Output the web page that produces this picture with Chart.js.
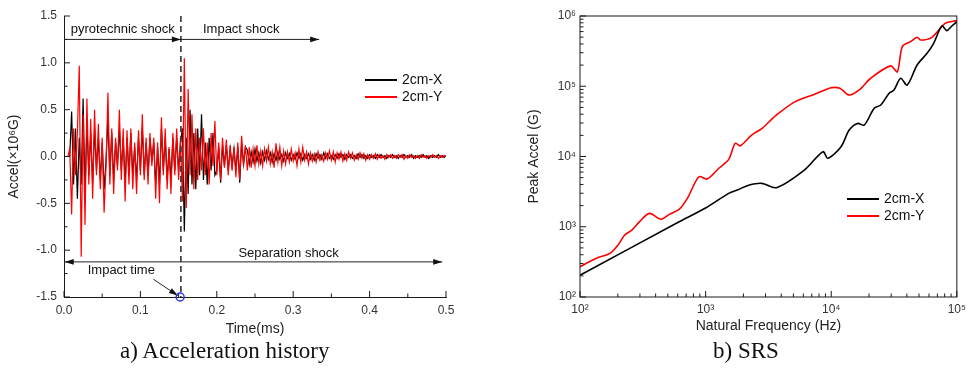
<!DOCTYPE html>
<html>
<head>
<meta charset="utf-8">
<script src="https://cdn.jsdelivr.net/npm/chart.js@4"></script>
<style>
	body { margin: 0; background: #fff; width: 971px; height: 369px; position: relative; overflow: hidden; }
	canvas { position: absolute; top: 0; }
	#histChart { left: 0; }
	#srsChart { left: 490px; }
	.caption { position: absolute; top: 339px; font-family: 'Liberation Serif', 'Times New Roman', serif; font-size: 23px; line-height: 23px; color: #111; white-space: nowrap; }
</style>
</head>
<body>
<canvas id="histChart" width="490" height="369"></canvas>
<canvas id="srsChart" width="481" height="369"></canvas>
<div class="caption" style="left:120px">a) Acceleration history</div>
<div class="caption" style="left:713px">b) SRS</div>
<script>
// time history, ms
const timeMs = [
	0, 0.0025, 0.005, 0.0075, 0.01, 0.0125, 0.015, 0.0175,
	0.02, 0.0225, 0.025, 0.0275, 0.03, 0.0325, 0.035, 0.0375,
	0.04, 0.0425, 0.045, 0.0475, 0.05, 0.0525, 0.055, 0.0575,
	0.06, 0.0625, 0.065, 0.0675, 0.07, 0.0725, 0.075, 0.0775,
	0.08, 0.0825, 0.085, 0.0875, 0.09, 0.0925, 0.095, 0.0975,
	0.1, 0.1025, 0.105, 0.1075, 0.11, 0.1125, 0.115, 0.1175,
	0.12, 0.1225, 0.125, 0.1275, 0.13, 0.1325, 0.135, 0.1375,
	0.14, 0.1425, 0.145, 0.1475, 0.15, 0.1525, 0.155, 0.1575,
	0.16, 0.1625, 0.165, 0.1675, 0.17, 0.1725, 0.175, 0.1775,
	0.18, 0.1825, 0.185, 0.1875, 0.19, 0.1925, 0.195, 0.1975,
	0.2, 0.2025, 0.205, 0.2075, 0.21, 0.2125, 0.215, 0.2175,
	0.22, 0.2225, 0.225, 0.2275, 0.23, 0.2325, 0.235, 0.2375,
	0.24, 0.2425, 0.245, 0.2475, 0.25, 0.2525, 0.255, 0.2575,
	0.26, 0.2625, 0.265, 0.2675, 0.27, 0.2725, 0.275, 0.2775,
	0.28, 0.2825, 0.285, 0.2875, 0.29, 0.2925, 0.295, 0.2975,
	0.3, 0.3025, 0.305, 0.3075, 0.31, 0.3125, 0.315, 0.3175,
	0.32, 0.3225, 0.325, 0.3275, 0.33, 0.3325, 0.335, 0.3375,
	0.34, 0.3425, 0.345, 0.3475, 0.35, 0.3525, 0.355, 0.3575,
	0.36, 0.3625, 0.365, 0.3675, 0.37, 0.3725, 0.375, 0.3775,
	0.38, 0.3825, 0.385, 0.3875, 0.39, 0.3925, 0.395, 0.3975,
	0.4, 0.4025, 0.405, 0.4075, 0.41, 0.4125, 0.415, 0.4175,
	0.42, 0.4225, 0.425, 0.4275, 0.43, 0.4325, 0.435, 0.4375,
	0.44, 0.4425, 0.445, 0.4475, 0.45, 0.4525, 0.455, 0.4575,
	0.46, 0.4625, 0.465, 0.4675, 0.47, 0.4725, 0.475, 0.4775,
	0.48, 0.4825, 0.485, 0.4875, 0.49, 0.4925, 0.495, 0.4975,
	0.5
];

// 2cm-X, x10^6 G
const accelX = [
	0, 0, 0, 0, 0.48, -0.3, 0.3, -0.45,
	0.2, -0.3, 0.62, -0.4, 0.35, -0.2, 0.25, -0.3,
	0.3, -0.15, 0.2, -0.25, 0.15, -0.35, -0.05, 0.4,
	-0.2, 0.25, -0.25, 0.15, -0.1, 0.3, -0.15, 0.2,
	-0.3, 0.2, -0.2, 0.25, -0.2, 0.1, -0.25, 0.2,
	-0.15, 0.3, -0.2, 0.15, -0.2, 0.2, -0.05, 0.15,
	-0.3, 0.1, -0.3, 0.3, -0.15, 0.2, -0.25, 0.08,
	-0.25, 0.2, -0.15, 0.2, -0.15, 0.15, 0.3, -0.8,
	0.2, -0.4, 0.5, -0.3, 0.25, -0.35, 0.3, -0.2,
	0.45, -0.25, 0.15, -0.3, 0.2, -0.15, 0.25, -0.2,
	-0.15, 0.1, -0.28, 0.12, -0.1, 0.12, -0.15, 0.08,
	-0.1, 0.08, -0.15, 0.1, -0.28, 0.15, -0.08, 0.1,
	0.07, -0.08, 0.05, -0.06, 0.08, -0.05, 0.04, -0.07,
	0.05, -0.04, 0.06, -0.03, 0.04, -0.06, 0.03, -0.04,
	0.05, -0.03, 0.02, -0.05, 0.04, -0.02, 0.03, -0.04,
	0.02, -0.03, 0.04, -0.02, 0.03, -0.04, 0.02, -0.02,
	0.03, -0.03, 0.02, -0.04, 0.03, -0.02, 0.02, -0.03,
	0.04, -0.02, 0.03, -0.02, 0.01, -0.03, 0.02, -0.02,
	0.03, -0.01, 0.02, -0.03, 0.02, -0.01, 0.02, -0.02,
	0.01, -0.02, 0.03, -0.01, 0.02, -0.02, 0.01, -0.02,
	0.02, -0.01, 0.01, -0.02, 0.02, -0.01, 0.02, -0.01,
	0.01, -0.02, 0.01, -0.01, 0.02, -0.01, 0.01, -0.02,
	0.01, -0.01, 0.02, -0.01, 0.01, -0.01, 0.02, -0.02,
	0.01, -0.01, 0.01, -0.01, 0.02, -0.01, 0.01, -0.02,
	0.01, -0.01, 0.01, -0.01, 0.02, -0.01, 0.01, -0.01,
	0.01
];

// 2cm-Y, x10^6 G
const accelY = [
	0, 0, 0, 0.08, -0.62, 0.3, -0.2, 0.25,
	0.97, -1.07, 0.45, -0.73, 0.62, -0.3, 0.4, -0.45,
	0.5, -0.2, 0.35, -0.35, 0.2, -0.6, -0.1, 0.68,
	-0.3, 0.3, -0.4, 0.2, -0.15, 0.5, -0.25, 0.3,
	-0.48, 0.28, -0.3, 0.3, -0.35, 0.15, -0.4, 0.28,
	-0.2, 0.45, -0.25, 0.2, -0.3, 0.25, -0.1, 0.2,
	-0.45, 0.15, -0.5, 0.42, -0.2, 0.3, -0.35, 0.1,
	-0.4, 0.25, -0.2, 0.3, -0.25, 0.2, -0.48, 1.05,
	-0.55, 0.72, -0.2, 0.45, -0.35, 0.3, -0.25, 0.2,
	-0.15, 0.3, -0.2, 0.15, -0.3, 0.25, -0.1, 0.38,
	-0.2, 0.15, -0.25, 0.2, -0.12, 0.18, -0.2, 0.12,
	-0.15, 0.1, -0.22, 0.15, -0.25, 0.22, -0.1, 0.12,
	-0.15, 0.1, -0.12, 0.08, -0.1, 0.12, -0.08, 0.06,
	-0.1, 0.08, -0.05, 0.1, -0.08, 0.05, -0.12, 0.14,
	-0.06, 0.1, -0.1, 0.06, -0.08, 0.05, -0.06, 0.08,
	-0.05, 0.04, -0.1, 0.08, -0.06, 0.1, -0.04, 0.05,
	-0.08, 0.04, -0.05, 0.03, -0.06, 0.05, -0.04, 0.02,
	-0.05, 0.04, -0.03, 0.06, -0.04, 0.05, -0.06, 0.04,
	-0.03, 0.05, -0.05, 0.03, -0.04, 0.05, -0.02, 0.04,
	-0.04, 0.02, -0.03, 0.04, -0.02, 0.03, -0.04, 0.02,
	-0.03, 0.02, -0.02, 0.03, -0.03, 0.02, -0.02, 0.01,
	-0.03, 0.02, -0.01, 0.02, -0.02, 0.01, -0.02, 0.02,
	-0.01, 0.02, -0.03, 0.01, -0.02, 0.02, -0.01, 0.01,
	-0.02, 0.01, -0.02, 0.02, -0.01, 0.01, -0.02, 0.01,
	-0.01, 0.02, -0.01, 0.01, -0.02, 0.01, -0.01, 0.01,
	0
];

const timeTicks = [0, 0.1, 0.2, 0.3, 0.4, 0.5];
const accelTicks = [-1.5, -1, -0.5, 0, 0.5, 1, 1.5];
const impactTime = 0.153;

// shock response spectrum, Hz / G
const srsFreqX = [100, 600, 1000, 1527, 1833, 2200, 2800, 3670, 6150, 8590, 9400, 11970, 13900, 16200, 18300, 22000, 24800, 28800, 31600, 35700, 40200, 48300, 57900, 65400, 76000, 83200, 91200, 100000];
const srsPeakX = [204, 1150, 1850, 2990, 3400, 3900, 4150, 3600, 6460, 11700, 9450, 13800, 23800, 29600, 28000, 48500, 54000, 79000, 88500, 130000, 104000, 201000, 294000, 409000, 720000, 620000, 720000, 830000];
const srsFreqY = [100, 135, 173, 201, 227, 260, 298, 357, 442, 513, 615, 716, 885, 1030, 1275, 1527, 1720, 1887, 2325, 2800, 3670, 5130, 7380, 10000, 11700, 13900, 16700, 20600, 29700, 33600, 36800, 42700, 48300, 51300, 63400, 80700, 100000];
const srsPeakY = [270, 357, 417, 550, 763, 900, 1180, 1550, 1280, 1500, 1770, 2540, 5150, 4780, 6800, 9100, 15400, 14200, 20200, 25000, 39000, 60000, 77000, 95000, 93600, 75000, 88500, 130000, 195000, 161000, 367000, 431000, 497000, 455000, 497000, 785000, 860000];
const freqTicks = [100, 1000, 10000, 100000];
const peakTicks = [100, 1000, 10000, 100000, 1000000];

Chart.defaults.font.family = "'Liberation Sans', Arial, sans-serif";
Chart.defaults.color = '#333';

const supers = { 2: '²', 3: '³', 4: '⁴', 5: '⁵', 6: '⁶' };
const powLabel = v => '10' + supers[Math.round(Math.log10(v))];

function logMinors(lo, hi) {
	const out = [];
	for (let d = lo; d < hi; d *= 10) {
		for (let k = 2; k < 10; k++) out.push(d * k);
	}
	return out;
}

function seg(ctx, x1, y1, x2, y2) {
	ctx.beginPath();
	ctx.moveTo(x1, y1);
	ctx.lineTo(x2, y2);
	ctx.stroke();
}

function arrow(ctx, x1, y1, x2, y2) {
	seg(ctx, x1, y1, x2, y2);
	const a = Math.atan2(y2 - y1, x2 - x1);
	ctx.beginPath();
	ctx.moveTo(x2, y2);
	ctx.lineTo(x2 - 9 * Math.cos(a) + 2.8 * Math.sin(a), y2 - 9 * Math.sin(a) - 2.8 * Math.cos(a));
	ctx.lineTo(x2 - 9 * Math.cos(a) - 2.8 * Math.sin(a), y2 - 9 * Math.sin(a) + 2.8 * Math.cos(a));
	ctx.closePath();
	ctx.fill();
}

// inward ticks, optional frame, legend inside the plot
const axisDecor = {
	id: 'axisDecor',
	afterDraw(chart, args, o) {
		const { ctx, chartArea: a } = chart;
		const x = chart.scales.x, y = chart.scales.y;
		ctx.save();
		ctx.strokeStyle = '#1a1a1a';
		ctx.lineWidth = 1;
		if (o.box) ctx.strokeRect(a.left, a.top, a.right - a.left, a.bottom - a.top);
		o.xMajor.forEach(v => { const p = x.getPixelForValue(v); seg(ctx, p, a.bottom, p, a.bottom - 6); });
		o.xMinor.forEach(v => { const p = x.getPixelForValue(v); seg(ctx, p, a.bottom, p, a.bottom - 3.5); });
		o.yMajor.forEach(v => { const p = y.getPixelForValue(v); seg(ctx, a.left, p, a.left + 6, p); });
		o.yMinor.forEach(v => { const p = y.getPixelForValue(v); seg(ctx, a.left, p, a.left + 3.5, p); });

		ctx.font = "14px 'Liberation Sans', Arial";
		ctx.textBaseline = 'middle';
		chart.data.datasets.forEach((ds, i) => {
			const ly = a.top + o.legendTop + i * 17;
			const lx = a.left + o.legendLeft;
			ctx.strokeStyle = ds.borderColor;
			ctx.lineWidth = 2;
			seg(ctx, lx, ly, lx + 32, ly);
			ctx.fillStyle = '#111';
			ctx.fillText(ds.label, lx + 37, ly);
		});
		ctx.restore();
	}
};

// shock phase arrows and impact marker
const shockNotes = {
	id: 'shockNotes',
	afterDraw(chart) {
		const { ctx, scales: { x, y } } = chart;
		const px = v => x.getPixelForValue(v);
		const py = v => y.getPixelForValue(v);
		ctx.save();
		ctx.strokeStyle = '#333';
		ctx.lineWidth = 1.6;
		ctx.setLineDash([6, 4]);
		seg(ctx, px(impactTime), py(1.5), px(impactTime), py(-1.5));
		ctx.setLineDash([]);

		ctx.strokeStyle = '#222';
		ctx.fillStyle = '#111';
		ctx.lineWidth = 1;
		arrow(ctx, px(0), py(1.25), px(impactTime), py(1.25));
		arrow(ctx, px(impactTime), py(1.25), px(0.334), py(1.25));
		arrow(ctx, px(0.25), py(-1.125), px(0.001), py(-1.125));
		arrow(ctx, px(0.25), py(-1.125), px(0.495), py(-1.125));
		arrow(ctx, px(0.117), py(-1.31), px(0.149), py(-1.485));

		ctx.font = "13px 'Liberation Sans', Arial";
		ctx.textAlign = 'center';
		ctx.textBaseline = 'middle';
		ctx.fillText('pyrotechnic shock', px(0.077), py(1.36));
		ctx.fillText('Impact shock', px(0.232), py(1.36));
		ctx.fillText('Separation shock', px(0.294), py(-1.04));
		ctx.fillText('Impact time', px(0.075), py(-1.215));

		ctx.strokeStyle = '#2a35e8';
		ctx.lineWidth = 1.5;
		ctx.beginPath();
		ctx.arc(px(0.152), py(-1.5), 4, 0, Math.PI * 2);
		ctx.stroke();
		ctx.restore();
	}
};

const histCanvas = document.getElementById('histChart');
new Chart(histCanvas, {
	type: 'line',
	data: {
		datasets: [
			{
				label: '2cm-X',
				data: timeMs.map((t, i) => ({ x: t, y: accelX[i] })),
				borderColor: '#000000',
				borderWidth: 1.2,
				pointRadius: 0,
				tension: 0,
				order: 2
			},
			{
				label: '2cm-Y',
				data: timeMs.map((t, i) => ({ x: t, y: accelY[i] })),
				borderColor: '#ff0000',
				borderWidth: 1.2,
				pointRadius: 0,
				tension: 0,
				order: 1
			}
		]
	},
	options: {
		responsive: false,
		animation: false,
		events: [],
		layout: { padding: { top: 16, right: 44, bottom: 28, left: 0 } },
		plugins: {
			legend: { display: false },
			tooltip: { enabled: false },
			axisDecor: {
				xMajor: timeTicks,
				xMinor: [0.05, 0.15, 0.25, 0.35, 0.45],
				yMajor: accelTicks,
				yMinor: [-1.25, -0.75, -0.25, 0.25, 0.75, 1.25],
				legendLeft: 301,
				legendTop: 64
			}
		},
		scales: {
			x: {
				type: 'linear',
				min: 0,
				max: 0.5,
				afterBuildTicks: s => { s.ticks = timeTicks.map(v => ({ value: v })); },
				afterFit: s => { s.height = 44; },
				grid: { display: false, drawTicks: false },
				border: { color: '#1a1a1a', width: 1 },
				ticks: { padding: 6, font: { size: 12 }, maxRotation: 0, autoSkip: false, callback: v => v.toFixed(1) },
				title: { display: true, text: 'Time(ms)', font: { size: 14 }, color: '#222', padding: { top: 0, bottom: 3 } }
			},
			y: {
				type: 'linear',
				min: -1.5,
				max: 1.5,
				afterBuildTicks: s => { s.ticks = accelTicks.map(v => ({ value: v })); },
				afterFit: s => { s.width = 64; },
				grid: { display: false, drawTicks: false },
				border: { color: '#1a1a1a', width: 1 },
				ticks: { padding: 7, font: { size: 12 }, callback: v => v.toFixed(1) },
				title: { display: true, text: 'Accel(×10⁶G)', font: { size: 14 }, color: '#222', padding: { top: 6, bottom: 0 } }
			}
		}
	},
	plugins: [axisDecor, shockNotes]
});

const srsCanvas = document.getElementById('srsChart');
new Chart(srsCanvas, {
	type: 'line',
	data: {
		datasets: [
			{
				label: '2cm-X',
				data: srsFreqX.map((f, i) => ({ x: f, y: srsPeakX[i] })),
				borderColor: '#000000',
				borderWidth: 1.6,
				pointRadius: 0,
				tension: 0.3
			},
			{
				label: '2cm-Y',
				data: srsFreqY.map((f, i) => ({ x: f, y: srsPeakY[i] })),
				borderColor: '#ff0000',
				borderWidth: 1.6,
				pointRadius: 0,
				tension: 0.3
			}
		]
	},
	options: {
		responsive: false,
		animation: false,
		events: [],
		layout: { padding: { top: 16, right: 11, bottom: 28, left: 0 } },
		plugins: {
			legend: { display: false },
			tooltip: { enabled: false },
			axisDecor: {
				box: true,
				xMajor: freqTicks,
				xMinor: logMinors(100, 100000),
				yMajor: peakTicks,
				yMinor: logMinors(100, 1000000),
				legendLeft: 267,
				legendTop: 183
			}
		},
		scales: {
			x: {
				type: 'logarithmic',
				min: 100,
				max: 100000,
				afterBuildTicks: s => { s.ticks = freqTicks.map(v => ({ value: v })); },
				afterFit: s => { s.height = 44; },
				grid: { display: false, drawTicks: false },
				border: { display: false },
				ticks: { padding: 5, font: { size: 12 }, maxRotation: 0, autoSkip: false, callback: powLabel },
				title: { display: true, text: 'Natural Frequency (Hz)', font: { size: 14 }, color: '#222', padding: { top: 0, bottom: 6 } }
			},
			y: {
				type: 'logarithmic',
				min: 100,
				max: 1000000,
				afterBuildTicks: s => { s.ticks = peakTicks.map(v => ({ value: v })); },
				afterFit: s => { s.width = 90; },
				grid: { display: false, drawTicks: false },
				border: { display: false },
				ticks: { padding: 4, font: { size: 12 }, callback: powLabel },
				title: { display: true, text: 'Peak Accel (G)', font: { size: 14 }, color: '#222', padding: { top: 36, bottom: 0 } }
			}
		}
	},
	plugins: [axisDecor]
});
</script>
</body>
</html>
